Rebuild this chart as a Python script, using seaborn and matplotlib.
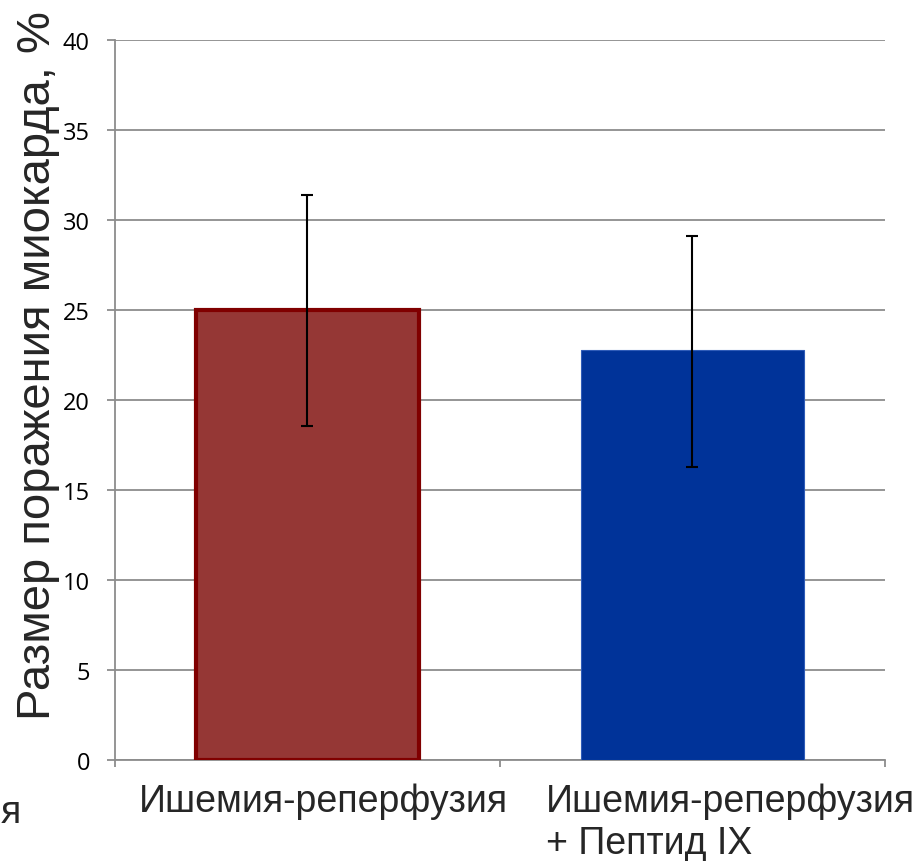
import numpy as np
import pandas as pd
import seaborn as sns
import matplotlib
matplotlib.use("Agg")
import matplotlib.pyplot as plt
import matplotlib.transforms as mtransforms

# data
groups = ["Ишемия-реперфузия", "Ишемия-реперфузия\n+ Пептид IX"]
values = [25.0, 22.8]
err_low = [6.45, 6.5]
err_high = [6.4, 6.3]
fills = ["#953735", "#003399"]
edges = ["#800000", "#2f5cb8"]
edge_widths = [3.0, 0.8]
yticks = [0, 5, 10, 15, 20, 25, 30, 35, 40]

sns.set_theme(style="white")
plt.rcParams['font.family'] = ['Liberation Sans', 'DejaVu Sans']

fig = plt.figure(figsize=(9.2, 8.62), dpi=100)
ax = fig.add_axes([115/920, 1-761/862, 770/920, 720/862])

df = pd.DataFrame({"group": groups, "value": values})
sns.barplot(data=df, x="group", y="value", hue="group", palette=fills,
            width=0.58, legend=False, ax=ax, saturation=1)
for p, ec, lw in zip(ax.patches, edges, edge_widths):
    p.set_edgecolor(ec)
    p.set_linewidth(lw)
    p.set_zorder(3)

ax.errorbar(np.arange(len(values)), values, yerr=[err_low, err_high],
            fmt="none", ecolor="black", elinewidth=1.5, capsize=4.3,
            capthick=1.5, zorder=4)

ax.set_xlim(-0.5, 1.5)
ax.set_ylim(0, 40)
ax.set_yticks(yticks)
ax.set_yticklabels([str(t) for t in yticks], family=['Open Sans', 'DejaVu Sans'], fontsize=17)
ax.yaxis.grid(True, color="#8c8c8c", linewidth=1.3, zorder=0)
ax.set_axisbelow(True)

for s in ["top", "right"]:
    ax.spines[s].set_visible(False)
for s in ["left", "bottom"]:
    ax.spines[s].set_color("#8c8c8c")
    ax.spines[s].set_linewidth(1.3)

ax.tick_params(axis="y", which="major", left=True, length=6, width=1.3,
               color="#8c8c8c", pad=12, labelcolor="black")
ax.set_xticks([-0.5, 0.5, 1.5], minor=True)
ax.tick_params(axis="x", which="minor", bottom=True, length=5, width=1.3,
               color="#8c8c8c", direction="out")
ax.tick_params(axis="x", which="major", length=0, pad=16.5)
ax.set_xticklabels(groups, fontsize=27, multialignment="left")
offsets = [16, 38]
for lab, dx in zip(ax.get_xticklabels(), offsets):
    lab.set_transform(lab.get_transform() +
                      mtransforms.ScaledTranslation(dx/100, 0, fig.dpi_scale_trans))

ax.set_xlabel("")
ax.set_ylabel("")
fig.text(38/920, 1-366/862, "Размер поражения миокарда, %", rotation=90,
         ha="center", va="center", fontsize=34)

# leftover text fragment at the left edge
fig.text(0.5/920, 1-813/862, "я", ha="left", va="center", fontsize=27)

fig.savefig("out.png", dpi=100)
